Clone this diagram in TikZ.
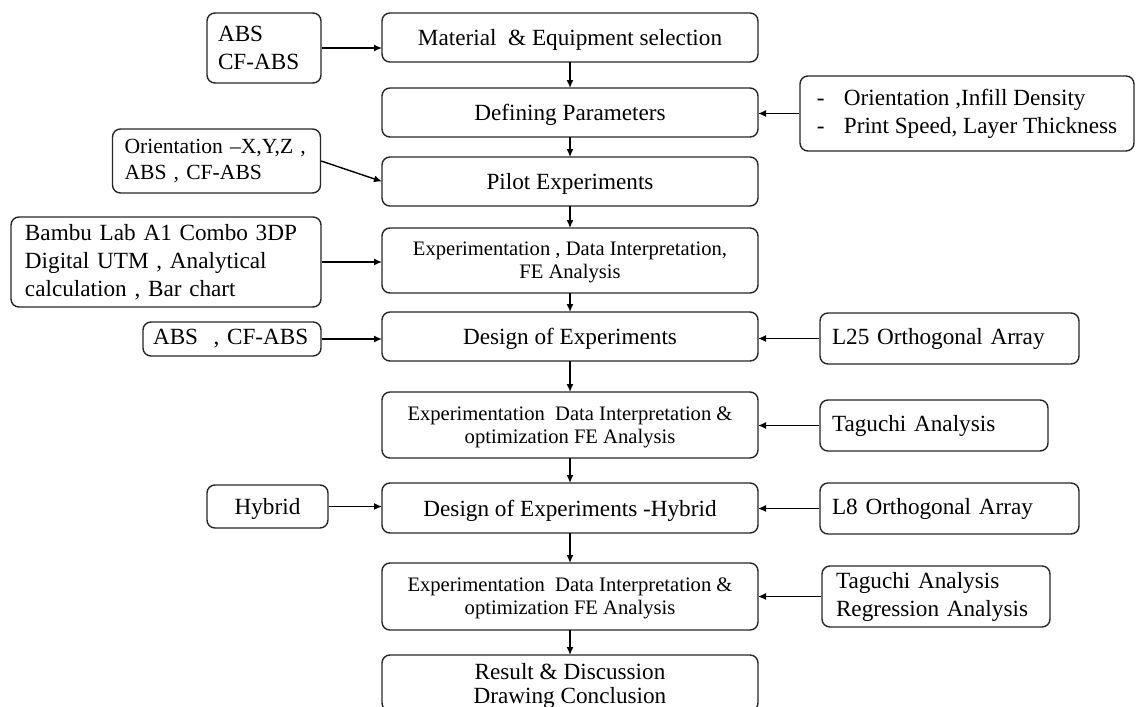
\documentclass[tikz,border=0pt]{standalone}
\usepackage{fontspec}
\setmainfont{Liberation Serif}
\usetikzlibrary{arrows.meta,positioning}

\begin{document}
\begin{tikzpicture}[x=0.5pt,y=-0.5pt,node distance=12pt]
\tikzstyle{mb}=[draw=black!85, rounded corners=4pt, minimum width=188pt, outer sep=0pt,
  minimum height=24.5pt, align=center, text depth=0pt, font=\fontsize{11.6}{13.5}\selectfont, line width=0.7pt]
\tikzstyle{ms}=[mb, minimum height=33pt, font=\fontsize{10.3}{11.5}\selectfont]
\tikzstyle{sb}=[draw=black!85, rounded corners=4pt, align=left, inner xsep=6pt,
  font=\fontsize{11.6}{14}\selectfont, line width=0.7pt]
\useasboundingbox (0,0) rectangle (1136,707);
\node[mb] (m1) at (570,37.5) {Material\ \ \& Equipment selection};
\node[mb, below=13pt of m1] (m2) {Defining Parameters};
\node[mb, below=10pt of m2] (m3) {Pilot Experiments};
\node[ms, minimum height=32.5pt, below=11pt of m3] (m4) {Experimentation , Data Interpretation,\\FE Analysis};
\node[mb, below=9.5pt of m4] (m5) {Design of Experiments};
\node[ms, below=15.5pt of m5] (m6) {Experimentation\ \ Data Interpretation \&\\optimization FE Analysis};
\node[mb, minimum height=25pt, below=12.5pt of m6] (m7) {Design of Experiments -Hybrid};
\node[ms, minimum height=33.5pt, below=15pt of m7] (m8) {Experimentation\ \ Data Interpretation \&\\optimization FE Analysis};
\node[mb, minimum height=28pt, inner ysep=1.5pt, font=\fontsize{11.6}{12}\selectfont, below=12.5pt of m8] (m9) {Result \& Discussion\\Drawing Conclusion};
\node[sb, text width=46pt, minimum height=35pt, inner xsep=5.5pt] (l1) at (264,48) {ABS\\CF-ABS};
\node[sb, text width=92pt, minimum height=32pt, font=\fontsize{10.8}{13}\selectfont] (l2) at (216.5,161) {Orientation --X,Y,Z ,\\ABS , CF-ABS};
\node[sb, text width=141pt, minimum height=45pt, inner xsep=7pt] (l3) at (166,262) {Bambu Lab A1 Combo 3DP\\Digital UTM , Analytical\\calculation , Bar chart};
\node[sb, text width=79pt, minimum height=17pt, inner xsep=5pt, inner ysep=1.5pt] (l4) at (232,339) {ABS\ \ , CF-ABS};
\node[sb, align=center, minimum width=60.5pt, minimum height=21.5pt, text depth=0pt] (l5) at (267.5,506.5) {Hybrid};
\node[sb, minimum width=167pt, minimum height=37.5pt] (r1) at (967,113.5) {\makebox[13.5pt][l]{-}Orientation ,Infill Density\\\makebox[13.5pt][l]{-}Print Speed, Layer Thickness};
\node[sb, text width=117.5pt, minimum height=25.5pt] (r2) at (949.5,338.5) {L25 Orthogonal Array};
\node[sb, text width=102pt, minimum height=25.5pt] (r3) at (934,425.5) {Taguchi Analysis};
\node[sb, text width=117.5pt, minimum height=25.5pt] (r4) at (949.5,508.5) {L8 Orthogonal Array};
\node[sb, text width=100pt, minimum height=30.5pt, inner xsep=7pt, inner ysep=1.5pt] (r5) at (936,596.5) {Taguchi Analysis\\Regression Analysis};
\tikzstyle{farrow}=[-{Latex[length=4pt,width=3.5pt]}, line width=0.7pt]
\draw[farrow] (m1) -- (m2);
\draw[farrow] (m2) -- (m3);
\draw[farrow] (m3) -- (m4);
\draw[farrow] (m4) -- (m5);
\draw[farrow] (m5) -- (m6);
\draw[farrow] (m6) -- (m7);
\draw[farrow] (m7) -- (m8);
\draw[farrow] (m8) -- (m9);
\draw[farrow] (l1.east) -- (l1.east -| m1.west);
\draw[farrow] (l2.east) -- (m3.west);
\draw[farrow] (l3.east) -- (l3.east -| m4.west);
\draw[farrow] (l4.east) -- (l4.east -| m5.west);
\draw[farrow] (l5.east) -- (l5.east -| m7.west);
\draw[farrow] (r1.west) -- (r1.west -| m2.east);
\draw[farrow] (r2.west) -- (r2.west -| m5.east);
\draw[farrow] (r3.west) -- (r3.west -| m6.east);
\draw[farrow] (r4.west) -- (r4.west -| m7.east);
\draw[farrow] (r5.west) -- (r5.west -| m8.east);
\end{tikzpicture}
\end{document}
